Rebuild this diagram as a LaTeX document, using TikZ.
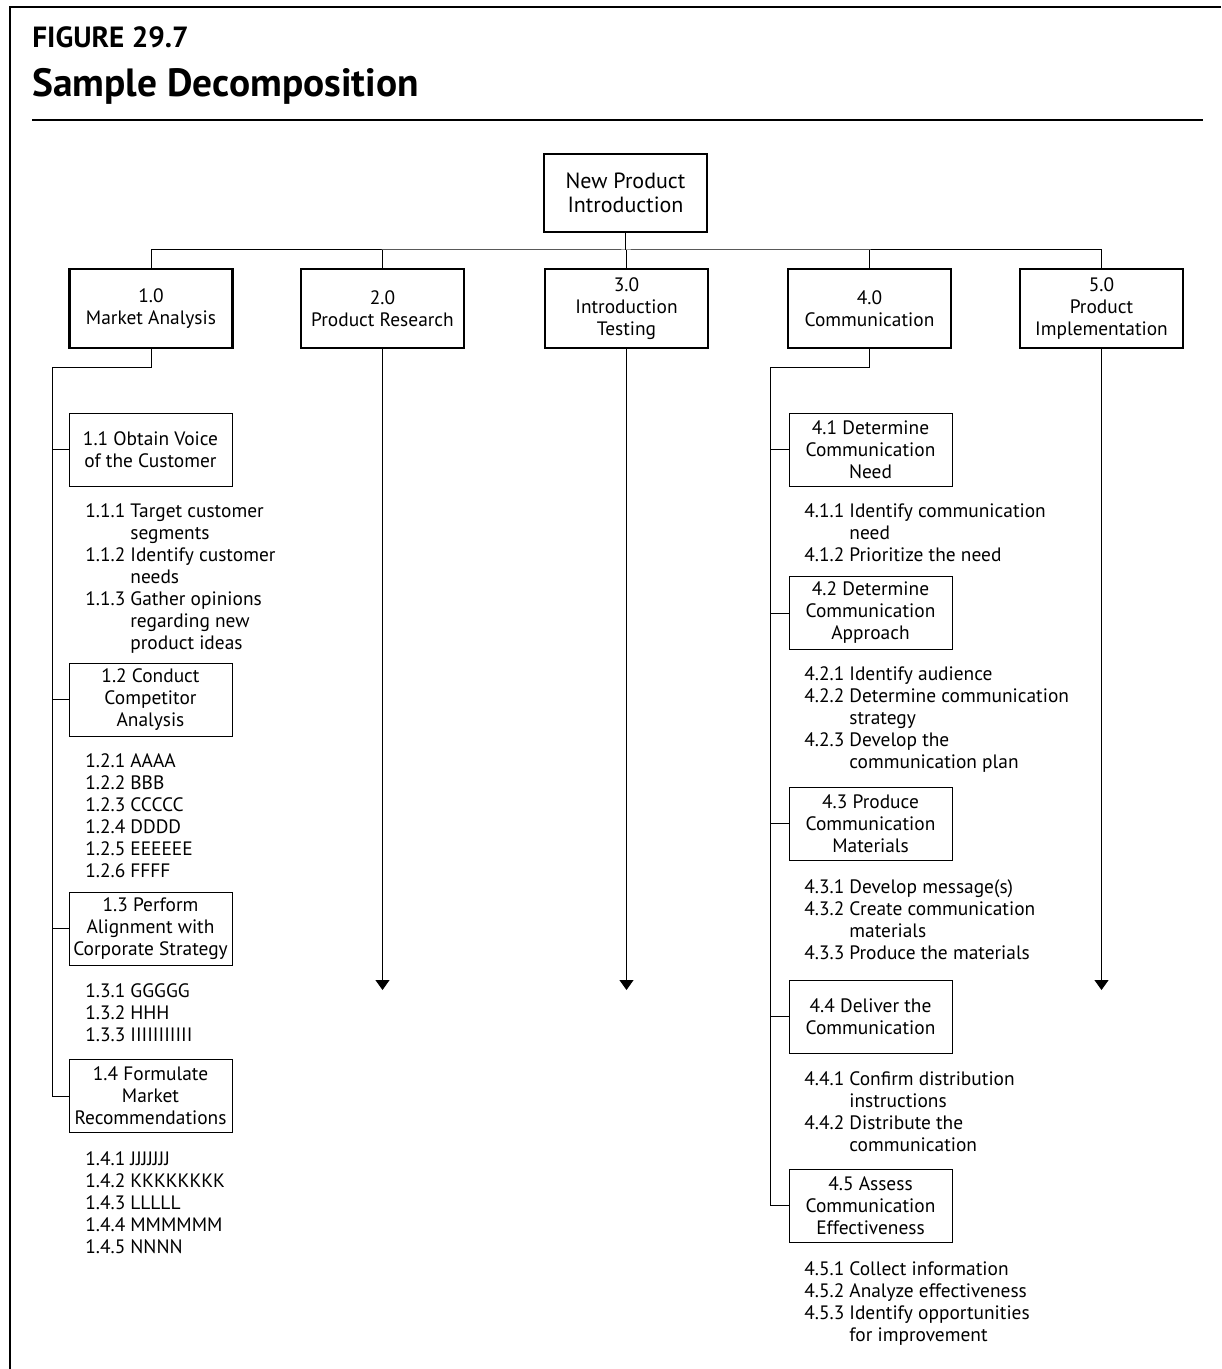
\documentclass[tikz,border=0pt]{standalone}
\usepackage{fontspec}
\setmainfont{PT Sans}
\usetikzlibrary{arrows.meta}

% numbered work packages: number column, then the text
\newenvironment{wbslist}{\begin{tabular}[t]{@{}p{22.5pt}@{}l@{}}}{\end{tabular}}

\begin{document}
\begin{tikzpicture}[x=0.5pt, y=-0.5pt,
    rootbox/.style  = {draw, line width=0.6pt, minimum width=81.5pt, minimum height=39pt,
                       align=center, font=\fontsize{11}{12}\selectfont},
    levelbox/.style = {draw, line width=1.25pt, minimum width=81.5pt, minimum height=39.5pt,
                       align=center, font=\fontsize{9.7}{11}\selectfont},
    taskbox/.style  = {draw, line width=0.5pt, minimum width=81.5pt, minimum height=36.5pt,
                       inner sep=2pt, align=center, font=\fontsize{9.7}{11}\selectfont},
    itemlist/.style = {anchor=base west, inner sep=0pt, font=\fontsize{9.7}{11}\selectfont},
    link/.style     = {line width=0.5pt},
    down/.style     = {line width=0.5pt, -{Triangle[width=7pt,length=5pt]}}]
  \useasboundingbox (0,0) rectangle (1221,1369);

  % frame and heading
  \draw[line width=1pt] (1221,7) -- (10,7) -- (10,1369);
  \node[anchor=base west, inner sep=0pt, font=\bfseries\fontsize{14.6}{15}\selectfont]
    (fignum) at (32,48) {FIGURE 29.7};
  \node[anchor=base west, inner sep=0pt, font=\bfseries\fontsize{19.7}{21}\selectfont]
    (figtitle) at (32,97) {Sample Decomposition};
  \draw[line width=0.75pt] (32,120) -- (1203,120);

  % top of the tree
  \node[rootbox] (root) at (625.5,193) {New Product\\Introduction};
  \foreach \n/\x/\t in {b1/151/{1.0\\Market Analysis}, b2/382.5/{2.0\\Product Research},
                        b3/626.5/{3.0\\Introduction\\Testing}, b4/869.5/{4.0\\Communication},
                        b5/1101.5/{5.0\\Product\\Implementation}}
    \node[levelbox] (\n) at (\x,308.5) {\t};

  \coordinate (bus) at (626,250);
  \draw[link] (root.south) -- (root.south |- bus);
  \draw[link] (b1.north) |- (bus) -| (b5.north);
  \foreach \n in {b2,b3,b4}
    \draw[link] (\n.north) -- (\n.north |- bus);

  % branches not broken down further
  \coordinate (tip) at (626,990);
  \foreach \n in {b2,b3,b5}
    \draw[down] (\n.south) -- (\n.south |- tip);

  % 1.0 Market Analysis
  \node[taskbox] (s11) at (150.5,449.5) {1.1 Obtain Voice\\of the Customer};
  \node[taskbox] (s12) at (150.5,699.5) {1.2 Conduct\\Competitor\\Analysis};
  \node[taskbox] (s13) at (150.5,928.5) {1.3 Perform\\Alignment with\\Corporate Strategy};
  \node[taskbox] (s14) at (150.5,1096) {1.4 Formulate\\Market\\Recommendations};

  \node[itemlist] (l11) at (85,517) {\begin{wbslist}
    1.1.1 & Target customer\\ & segments\\
    1.1.2 & Identify customer\\ & needs\\
    1.1.3 & Gather opinions\\ & regarding new\\ & product ideas
  \end{wbslist}};
  \node[itemlist] (l12) at (85,767) {\begin{wbslist}
    1.2.1 & AAAA\\ 1.2.2 & BBB\\ 1.2.3 & CCCCC\\
    1.2.4 & DDDD\\ 1.2.5 & EEEEEE\\ 1.2.6 & FFFF
  \end{wbslist}};
  \node[itemlist] (l13) at (85,997) {\begin{wbslist}
    1.3.1 & GGGGG\\ 1.3.2 & HHH\\ 1.3.3 & IIIIIIIIIII
  \end{wbslist}};
  \node[itemlist] (l14) at (85,1165) {\begin{wbslist}
    1.4.1 & JJJJJJJ\\ 1.4.2 & KKKKKKKK\\ 1.4.3 & LLLLL\\
    1.4.4 & MMMMMM\\ 1.4.5 & NNNN
  \end{wbslist}};

  \coordinate (lsp) at (52,367);
  \draw[link] (b1.south) |- (lsp) |- (s14.west);
  \foreach \n in {s11,s12,s13}
    \draw[link] (lsp |- \n.west) -- (\n.west);

  % 4.0 Communication
  \node[taskbox] (s41) at (870.5,449.5) {4.1 Determine\\Communication\\Need};
  \node[taskbox] (s42) at (870.5,613) {4.2 Determine\\Communication\\Approach};
  \node[taskbox] (s43) at (870.5,823.5) {4.3 Produce\\Communication\\Materials};
  \node[taskbox] (s44) at (870.5,1016.5) {4.4 Deliver the\\Communication};
  \node[taskbox] (s45) at (870.5,1205.5) {4.5 Assess\\Communication\\Effectiveness};

  \node[itemlist] (l41) at (804,517) {\begin{wbslist}
    4.1.1 & Identify communication\\ & need\\
    4.1.2 & Prioritize the need
  \end{wbslist}};
  \node[itemlist] (l42) at (804,680) {\begin{wbslist}
    4.2.1 & Identify audience\\
    4.2.2 & Determine communication\\ & strategy\\
    4.2.3 & Develop the\\ & communication plan
  \end{wbslist}};
  \node[itemlist] (l43) at (804,893) {\begin{wbslist}
    4.3.1 & Develop message(s)\\
    4.3.2 & Create communication\\ & materials\\
    4.3.3 & Produce the materials
  \end{wbslist}};
  \node[itemlist] (l44) at (804,1085) {\begin{wbslist}
    4.4.1 & Confirm distribution\\ & instructions\\
    4.4.2 & Distribute the\\ & communication
  \end{wbslist}};
  \node[itemlist] (l45) at (804,1275) {\begin{wbslist}
    4.5.1 & Collect information\\
    4.5.2 & Analyze effectiveness\\
    4.5.3 & Identify opportunities\\ & for improvement
  \end{wbslist}};

  \coordinate (rsp) at (770,367);
  \draw[link] (b4.south) |- (rsp) |- (s45.west);
  \foreach \n in {s41,s42,s43,s44}
    \draw[link] (rsp |- \n.west) -- (\n.west);
\end{tikzpicture}
\end{document}
